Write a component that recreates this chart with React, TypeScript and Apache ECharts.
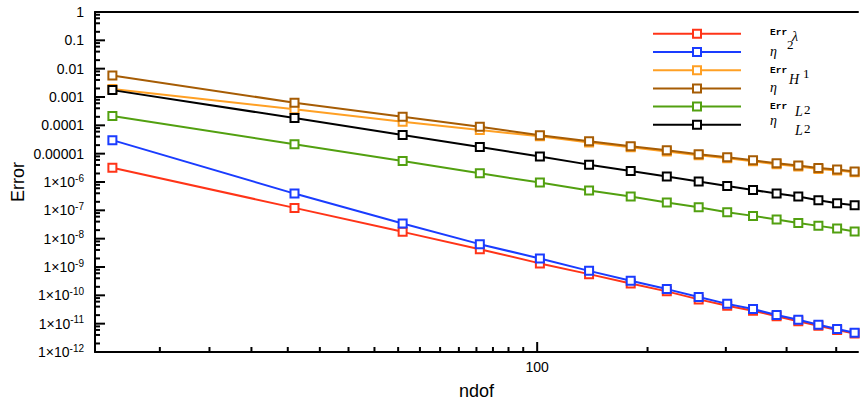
import React, { useEffect, useRef } from "react";
import * as echarts from "echarts";

// ---- data ----
const NDOF = [21, 41, 61, 81, 101, 121, 141, 161, 181, 201, 221, 241, 261, 281, 301, 321];

const ERR_LAMBDA = [3.2e-6, 1.22e-7, 1.74e-8, 4.26e-9, 1.34e-9, 5.6e-10, 2.63e-10, 1.38e-10, 7.2e-11, 4.3e-11, 2.87e-11, 1.82e-11, 1.22e-11, 8.5e-12, 6.0e-12, 4.5e-12];
const ETA_SQ = [3.0e-5, 3.9e-7, 3.43e-8, 6.4e-9, 2.0e-9, 7.3e-10, 3.26e-10, 1.66e-10, 8.7e-11, 5.0e-11, 3.27e-11, 2.01e-11, 1.38e-11, 9.2e-12, 6.5e-12, 4.8e-12];
const ERR_H1 = [1.9e-3, 3.66e-4, 1.35e-4, 6.84e-5, 4.1e-5, 2.5e-5, 1.67e-5, 1.2e-5, 8.8e-6, 6.9e-6, 5.4e-6, 4.25e-6, 3.5e-6, 2.9e-6, 2.55e-6, 2.2e-6];
const ETA = [5.78e-3, 6.3e-4, 2.02e-4, 8.98e-5, 4.44e-5, 2.73e-5, 1.82e-5, 1.31e-5, 9.5e-6, 7.45e-6, 5.85e-6, 4.58e-6, 3.8e-6, 3.13e-6, 2.74e-6, 2.33e-6];
const ERR_L2 = [2.13e-4, 2.14e-5, 5.52e-6, 2.03e-6, 9.55e-7, 4.99e-7, 3.05e-7, 1.88e-7, 1.29e-7, 8.6e-8, 6.37e-8, 4.73e-8, 3.6e-8, 2.83e-8, 2.28e-8, 1.79e-8];
const ETA_L2 = [1.75e-3, 1.81e-4, 4.56e-5, 1.72e-5, 7.9e-6, 4.1e-6, 2.45e-6, 1.56e-6, 1.04e-6, 7.26e-7, 5.25e-7, 3.9e-7, 3.07e-7, 2.28e-7, 1.78e-7, 1.51e-7];

const SERIES_NAMES = ["Err λ", "η²", "Err H¹", "η", "Err L²", "η L²"];
const SERIES_VALUES = [ERR_LAMBDA, ETA_SQ, ERR_H1, ETA, ERR_L2, ETA_L2];
const SERIES_COLORS = ["#ff3418", "#1a3cff", "#ffa024", "#a65c04", "#52a010", "#000000"];

// axis ranges and ticks
const X_MIN = 19.7;
const X_MAX = 325;
const Y_MIN = 1e-12;
const Y_MAX = 1;
const X_MAJOR_TICKS = [100];
const X_MINOR_TICKS = [25, 30, 35, 40, 45, 50, 55, 60, 65, 70, 75, 80, 85, 90, 95, 150, 200, 250, 300];
const Y_DECADES = [-12, -11, -10, -9, -8, -7, -6, -5, -4, -3, -2, -1, 0];
const Y_MINOR_MANTISSAS = [2, 4, 6, 8];

// legend label pieces: [text, font kind, x, y]
const LEGEND_PIECES: [string, string, number, number][] = [
  ["Err", "tt", 770, 32.5], ["λ", "it", 792, 36.5],
  ["η", "it", 770, 51.5], ["2", "rm", 787, 44.5],
  ["Err", "tt", 770, 70.5], ["H", "it", 789, 79], ["1", "rm", 803, 73.5],
  ["η", "it", 770, 87],
  ["Err", "tt", 770, 106], ["L", "it", 795, 111], ["2", "rm", 804, 109.5],
  ["η", "it", 770, 120.5], ["L", "it", 795, 130], ["2", "rm", 804, 128],
];

function yLabel(e: number): string {
  if (e === 0) return "1";
  if (e >= -5) return "0." + "0".repeat(-e - 1) + "1";
  return `{b|1×10}{sup|${e}}`;
}

export default function App() {
  const ref = useRef<HTMLDivElement>(null);
  useEffect(() => {
    if (!ref.current) return;
    const chart = echarts.init(ref.current, null, { renderer: "svg" });

    const lineSeries = SERIES_NAMES.map((name, i) => ({
      name,
      type: "line",
      data: NDOF.map((x, j) => [x, SERIES_VALUES[i][j]]),
      symbol: "emptyRect",
      symbolSize: 8,
      showAllSymbol: true,
      lineStyle: { color: SERIES_COLORS[i], width: 2 },
      itemStyle: { color: SERIES_COLORS[i], borderColor: SERIES_COLORS[i], borderWidth: 2 },
      z: 3 + i,
    }));

    const axisLine = { lineStyle: { color: "#000", width: 2 } };

    chart.setOption({
      animation: false,
      backgroundColor: "#ffffff",
      textStyle: { fontFamily: "'Liberation Sans', Arial, sans-serif" },
      grid: { left: 95, top: 12, right: 0, height: 341, show: false },
      legend: {
        data: SERIES_NAMES,
        orient: "vertical",
        left: 652,
        top: 28.8,
        padding: 0,
        itemWidth: 88,
        itemHeight: 10,
        itemGap: 8.2,
        formatter: () => "",
        textStyle: { fontSize: 6 },
        selectedMode: false,
      },
      xAxis: [
        {
          type: "log",
          min: X_MIN,
          max: X_MAX,
          position: "bottom",
          name: "ndof",
          nameLocation: "middle",
          nameGap: 30,
          nameTextStyle: { fontSize: 18, color: "#000" },
          axisLine,
          axisTick: { show: false },
          splitLine: { show: false },
          minorTick: { show: false },
          axisLabel: {
            fontSize: 14,
            color: "#000",
            margin: 8,
            formatter: (v: number) => (Math.abs(v - 100) < 1e-6 ? "100" : ""),
          },
        },
        {
          type: "log",
          min: X_MIN,
          max: X_MAX,
          position: "top",
          axisLine,
          axisTick: { show: false },
          axisLabel: { show: false },
          splitLine: { show: false },
        },
      ],
      yAxis: {
        type: "log",
        min: Y_MIN,
        max: Y_MAX,
        name: "Error",
        nameLocation: "middle",
        nameGap: 68,
        nameTextStyle: { fontSize: 18, color: "#000" },
        axisLine,
        axisTick: { show: false },
        splitLine: { show: false },
        axisLabel: { show: false },
      },
      series: lineSeries,
    });

    const toPx = (x: number, y: number): number[] =>
      chart.convertToPixel({ gridIndex: 0 }, [x, y]) as number[];

    const graphics: any[] = [];
    const tickRect = (x: number, y: number, w: number, h: number) =>
      graphics.push({
        type: "rect",
        z: 100,
        silent: true,
        shape: { x, y, width: w, height: h },
        style: { fill: "#000" },
      });

    // x ticks (inward, upward)
    X_MAJOR_TICKS.forEach((v) => {
      const p = toPx(v, Y_MIN);
      tickRect(p[0] - 1, p[1] - 10, 2, 10);
    });
    X_MINOR_TICKS.forEach((v) => {
      const p = toPx(v, Y_MIN);
      tickRect(p[0] - 1, p[1] - 5, 2, 5);
    });

    // y ticks and labels
    Y_DECADES.forEach((e) => {
      const v = Math.pow(10, e);
      const p = toPx(X_MIN, v);
      tickRect(p[0], p[1] - 1, 10, 2);
      graphics.push({
        type: "text",
        z: 100,
        silent: true,
        x: p[0] - 11,
        y: p[1],
        style: {
          text: yLabel(e),
          fill: "#000",
          fontSize: 14,
          fontFamily: "'Liberation Sans', Arial, sans-serif",
          align: "right",
          verticalAlign: "middle",
          rich: {
            b: { fontSize: 14, lineHeight: 18, fill: "#000" },
            sup: { fontSize: 10, lineHeight: 10, verticalAlign: "top", fill: "#000" },
          },
        },
      });
      if (e < 0) {
        Y_MINOR_MANTISSAS.forEach((m) => {
          const q = toPx(X_MIN, m * v);
          tickRect(q[0], q[1] - 1, 5, 2);
        });
      }
    });

    const fonts: Record<string, string> = {
      tt: "bold 9.5px 'Liberation Mono', monospace",
      it: "italic 14px 'Liberation Serif', serif",
      rm: "13px 'Liberation Serif', serif",
    };
    LEGEND_PIECES.forEach(([text, kind, x, y]) => {
      graphics.push({
        type: "text",
        z: 100,
        silent: true,
        x,
        y,
        style: { text, font: fonts[kind], fill: "#000", verticalAlign: "middle" },
      });
    });

    chart.setOption({ graphic: { elements: graphics } });
    return () => chart.dispose();
  }, []);
  return (
    <div
      ref={ref}
      style={{ position: "absolute", left: 0, top: 0, width: 861, height: 405, background: "#fff" }}
    />
  );
}
